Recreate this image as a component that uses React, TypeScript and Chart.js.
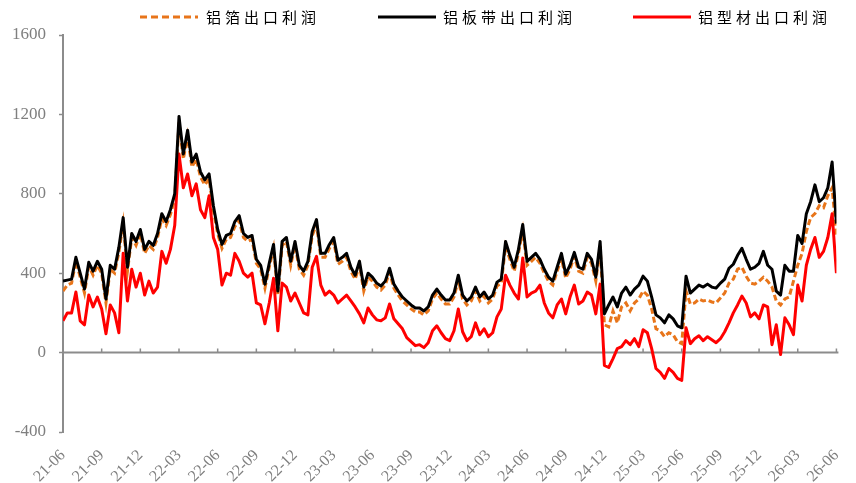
import { useEffect, useRef } from 'react';
import { Chart, registerables } from 'chart.js';

Chart.register(...registerables);

// ---- data ----
const SERIES_NAMES = ['铝箔出口利润', '铝板带出口利润', '铝型材出口利润'];
const X_TICK_LABELS = [
  '21-06', '21-09', '21-12', '22-03', '22-06', '22-09', '22-12', '23-03', '23-06', '23-09', '23-12',
  '24-03', '24-06', '24-09', '24-12', '25-03', '25-06', '25-09', '25-12', '26-03', '26-06',
];
const MONTHS_PER_TICK = 3;
const SAMPLES_PER_MONTH = 3;
const Y_MIN = -400;
const Y_MAX = 1600;
const Y_STEP = 400;

// 铝箔出口利润 (orange dashed)
const foil = [
  310, 340, 350, 460, 380, 300, 435, 390, 440,
  400, 250, 420, 400, 505, 650, 410, 580, 540,
  600, 500, 540, 520, 580, 675, 640, 695, 775,
  1160, 975, 1090, 935, 975, 885, 845, 875, 715,
  600, 525, 570, 580, 635, 665, 580, 560, 570,
  450, 420, 325, 430, 525, 290, 540, 560, 440,
  540, 420, 390, 440, 590, 645, 480, 480, 525,
  560, 445, 460, 480, 410, 370, 440, 310, 380,
  360, 330, 315, 340, 405, 325, 290, 260, 240,
  220, 205, 205, 190, 210, 270, 300, 270, 245,
  245, 280, 365, 270, 240, 260, 310, 260, 285,
  250, 270, 335, 350, 535, 470, 410, 500, 615,
  440, 460, 480, 450, 400, 360, 340, 410, 475,
  375, 420, 485, 410, 400, 480, 450, 360, 535,
  140, 130, 210, 150, 230, 250, 210, 250, 270,
  310, 290, 220, 120, 110, 80, 100, 90, 55,
  45, 310, 245, 250, 270, 260, 265, 255, 250,
  275, 300, 350, 370, 420, 430, 385, 350, 345,
  360, 380, 360, 330, 260, 240, 270, 280, 360,
  440, 500, 610, 680, 700, 740, 730, 790, 830,
  590,
];

// 铝板带出口利润 (black)
const sheet = [
  360, 365, 370, 480, 400, 320, 455, 410, 460,
  420, 270, 440, 420, 530, 680, 430, 600, 560,
  620, 520, 560, 540, 600, 700, 660, 720, 800,
  1190, 1000, 1120, 960, 1000, 910, 870, 900, 740,
  620, 545, 590, 600, 660, 690, 600, 580, 590,
  470, 440, 345, 450, 545, 310, 560, 580, 460,
  560, 440, 410, 460, 610, 670, 500, 500, 545,
  580, 465, 480, 500, 430, 390, 460, 330, 400,
  380, 350, 335, 360, 425, 345, 310, 280, 260,
  240, 225, 225, 210, 230, 290, 320, 290, 265,
  265, 300, 390, 290, 260, 280, 330, 280, 305,
  270, 290, 355, 370, 560, 490, 430, 520, 645,
  460, 480, 500, 470, 420, 380, 360, 430, 500,
  395, 440, 505, 430, 420, 500, 470, 380, 560,
  195, 240, 280, 230, 300, 330, 290, 320, 340,
  385, 360, 280, 190, 175, 150, 190, 170, 135,
  125, 385, 300, 320, 340, 330, 345, 330, 325,
  350, 370, 425, 445, 490, 525, 470, 420, 430,
  450, 510, 440, 420, 310, 290, 440, 410, 410,
  590, 550, 700, 760, 845, 760, 780, 830, 960,
  650,
];

// 铝型材出口利润 (red)
const profile = [
  160, 200, 200, 305, 160, 140, 290, 230, 280,
  220, 95, 240, 200, 100, 500, 260, 420, 330,
  400, 290, 360, 300, 330, 510, 450, 520, 640,
  1000, 830, 900, 790, 850, 720, 680, 790, 580,
  520, 340, 400, 390, 500, 460, 400, 380, 400,
  250, 240, 145, 250, 375, 110, 350, 330, 260,
  300, 250, 200, 190, 430, 485, 340, 290, 310,
  290, 250, 270, 290, 260, 230, 195, 150, 225,
  190, 165, 160, 175, 245, 170, 145, 120, 75,
  55, 35, 40, 25, 50, 110, 135, 100, 70,
  60, 110, 220, 105, 60, 80, 150, 90, 120,
  80, 100, 180, 220, 390, 340, 300, 270, 477,
  280, 300, 310, 340, 250, 200, 175, 240, 270,
  195, 280, 340, 245, 260, 305, 290, 195, 345,
  -65, -75, -30, 20, 30, 60, 40, 70, 30,
  115, 100, 20, -80, -100, -130, -80, -100, -130,
  -140, 125, 45, 70, 85, 60, 80, 65, 50,
  70, 105, 150, 200, 240, 285, 250, 180, 200,
  170, 240, 230, 40, 140, -10, 175, 140, 90,
  340, 260, 440, 520, 580, 480, 510, 580, 700,
  400,
];

// ---- styles ----
const ORANGE = '#E8751A';
const BLACK = '#000000';
const RED = '#FF0000';
const AXIS = '#8c8c8c';
const TICK_TEXT = '#7f7f7f';
const NUM_FONT = '"Liberation Serif", "Times New Roman", serif';
const CJK_FONT = '"Noto Sans CJK SC", sans-serif';

const toPoints = (arr: number[]) => arr.map((v, i) => ({ x: i / SAMPLES_PER_MONTH, y: v }));

const zeroLinePlugin = {
  id: 'zeroLine',
  beforeDatasetsDraw(chart: any) {
    const { ctx, chartArea, scales } = chart;
    const x = scales.x;
    const y = scales.y;
    const y0 = y.getPixelForValue(0);
    ctx.save();
    ctx.strokeStyle = AXIS;
    ctx.lineWidth = 2;
    ctx.beginPath();
    ctx.moveTo(chartArea.left, y0);
    ctx.lineTo(chartArea.right + 2, y0);
    ctx.stroke();
    ctx.lineWidth = 1.5;
    ctx.beginPath();
    x.ticks.forEach((t: any) => {
      const px = x.getPixelForValue(t.value);
      ctx.moveTo(px, y0);
      ctx.lineTo(px, y0 - 4);
    });
    ctx.stroke();
    ctx.restore();
  },
};

const legendPlugin = {
  id: 'customLegend',
  afterDraw(chart: any) {
    const { ctx } = chart;
    const items = [
      { text: SERIES_NAMES[0], color: ORANGE, dash: [7, 4], x0: 140, x1: 198, tx: 206 },
      { text: SERIES_NAMES[1], color: BLACK, dash: [], x0: 378, x1: 436, tx: 443 },
      { text: SERIES_NAMES[2], color: RED, dash: [], x0: 633, x1: 691, tx: 698 },
    ];
    const yc = 17;
    ctx.save();
    items.forEach((it) => {
      ctx.strokeStyle = it.color;
      ctx.lineWidth = 3;
      ctx.setLineDash(it.dash);
      ctx.beginPath();
      ctx.moveTo(it.x0, yc);
      ctx.lineTo(it.x1, yc);
      ctx.stroke();
      ctx.setLineDash([]);
      ctx.fillStyle = '#000000';
      ctx.font = `15px ${CJK_FONT}`;
      ctx.textAlign = 'left';
      ctx.textBaseline = 'middle';
      (ctx as any).letterSpacing = '4px';
      ctx.fillText(it.text, it.tx, yc);
      (ctx as any).letterSpacing = '0px';
    });
    ctx.restore();
  },
};

export default function App() {
  const canvasRef = useRef<HTMLCanvasElement | null>(null);

  useEffect(() => {
    const canvas = canvasRef.current;
    if (!canvas) return;
    const chart = new Chart(canvas, {
      type: 'line',
      data: {
        datasets: [
          {
            label: SERIES_NAMES[1],
            data: toPoints(sheet),
            borderColor: BLACK,
            borderWidth: 3,
            pointRadius: 0,
            tension: 0,
            borderJoinStyle: 'round',
            order: 0,
          },
          {
            label: SERIES_NAMES[2],
            data: toPoints(profile),
            borderColor: RED,
            borderWidth: 3,
            pointRadius: 0,
            tension: 0,
            borderJoinStyle: 'round',
            order: 1,
          },
          {
            label: SERIES_NAMES[0],
            data: toPoints(foil),
            borderColor: ORANGE,
            borderWidth: 3,
            borderDash: [6, 3],
            pointRadius: 0,
            tension: 0,
            order: 2,
          },
        ],
      },
      options: {
        responsive: false,
        animation: false,
        layout: { padding: { top: 35, right: 8, left: 0, bottom: 0 } },
        plugins: {
          legend: { display: false },
          tooltip: { enabled: false },
        },
        scales: {
          x: {
            type: 'linear',
            min: 0,
            max: (X_TICK_LABELS.length - 1) * MONTHS_PER_TICK,
            grid: { display: false },
            border: { display: false },
            ticks: {
              stepSize: MONTHS_PER_TICK,
              autoSkip: false,
              maxRotation: 45,
              minRotation: 45,
              padding: 6,
              color: TICK_TEXT,
              font: { family: NUM_FONT, size: 16 },
              callback: (v: any) => X_TICK_LABELS[Math.round(Number(v) / MONTHS_PER_TICK)] ?? '',
            },
            afterFit: (s: any) => {
              s.height = 51;
            },
          },
          y: {
            min: Y_MIN,
            max: Y_MAX,
            grid: {
              drawOnChartArea: false,
              drawTicks: true,
              tickLength: 4,
              tickColor: AXIS,
              tickWidth: 1.5,
            },
            border: { color: AXIS, width: 2 },
            ticks: {
              stepSize: Y_STEP,
              padding: 13,
              color: TICK_TEXT,
              font: { family: NUM_FONT, size: 17 },
              callback: (v: any) => String(v),
            },
            afterFit: (s: any) => {
              s.width = 63;
            },
          },
        },
      },
      plugins: [zeroLinePlugin, legendPlugin],
    } as any);
    return () => chart.destroy();
  }, []);

  return (
    <div style={{ position: 'absolute', left: 0, top: 0, width: 856, height: 483, background: '#fff' }}>
      <canvas ref={canvasRef} width={856} height={483} style={{ display: 'block' }} />
    </div>
  );
}
